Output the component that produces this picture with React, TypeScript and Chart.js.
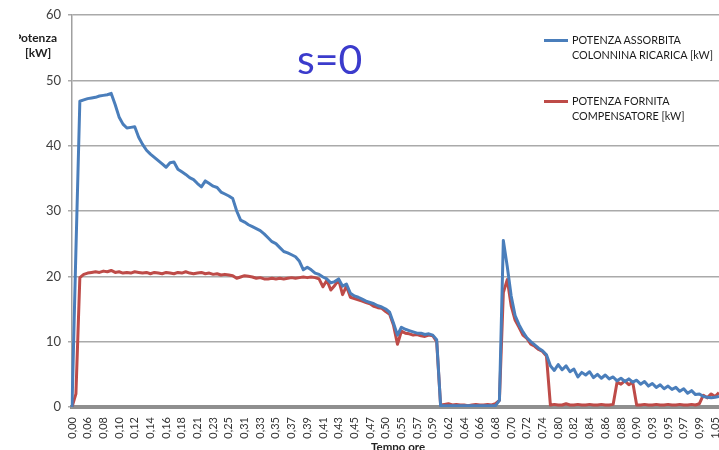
import { useEffect, useRef } from "react";
import { Chart, registerables } from "chart.js";

Chart.register(...registerables);

// Time axis labels (hours), one every 4 samples
const tickLabels = [
  "0,00", "0,06", "0,08", "0,10", "0,12", "0,14", "0,16", "0,18", "0,21", "0,23",
  "0,25", "0,31", "0,33", "0,35", "0,37", "0,39", "0,41", "0,43", "0,45", "0,47",
  "0,50", "0,55", "0,57", "0,59", "0,62", "0,64", "0,66", "0,68", "0,70", "0,72",
  "0,74", "0,80", "0,82", "0,84", "0,86", "0,88", "0,90", "0,93", "0,95", "0,97",
  "0,99", "1,05",
];
const SAMPLES_PER_TICK = 4;

// Potenza assorbita colonnina ricarica [kW]
const potenzaAssorbita = [
  0, 24, 46.8, 47.0, 47.2, 47.3, 47.4, 47.6, 47.7, 47.8,
  48.0, 46.3, 44.4, 43.3, 42.7, 42.8, 42.9, 41.3, 40.2, 39.3,
  38.7, 38.2, 37.7, 37.2, 36.7, 37.4, 37.5, 36.4, 36.0, 35.6,
  35.1, 34.8, 34.2, 33.7, 34.6, 34.2, 33.8, 33.6, 32.9, 32.6,
  32.3, 31.9, 30.0, 28.6, 28.3, 27.9, 27.6, 27.3, 27.0, 26.5,
  25.9, 25.3, 25.0, 24.4, 23.8, 23.6, 23.3, 23.0, 22.3, 21.0,
  21.4, 21.0, 20.5, 20.3, 19.9, 19.6, 19.0, 19.2, 19.6, 18.5,
  18.8, 17.4, 17.0, 16.8, 16.5, 16.2, 16.0, 15.8, 15.5, 15.3,
  15.0, 14.5, 12.8, 11.0, 12.2, 11.9, 11.7, 11.5, 11.3, 11.3,
  11.1, 11.2, 11.0, 10.3, 0.2, 0.2, 0.2, 0.2, 0.2, 0.2,
  0.2, 0.2, 0.2, 0.2, 0.2, 0.2, 0.2, 0.2, 0.2, 1.0,
  25.5, 21.5, 17.0, 14.0, 12.6, 11.5, 10.6, 10.0, 9.5, 9.0,
  8.6, 8.0, 6.3, 5.6, 6.5, 5.7, 6.3, 5.4, 5.8, 4.6,
  5.3, 4.9, 5.4, 4.5, 5.0, 4.4, 4.9, 4.3, 4.6, 4.0,
  4.4, 3.9, 4.3, 3.8, 4.1, 3.5, 3.9, 3.2, 3.6, 3.0,
  3.4, 2.8, 3.2, 2.7, 3.0, 2.4, 2.8, 2.1, 2.5, 1.9,
  2.0, 1.6, 1.5, 1.4, 1.5, 1.6,
];

// Potenza fornita compensatore [kW]
const potenzaFornita = [
  0, 2, 19.8, 20.3, 20.5, 20.6, 20.7, 20.6, 20.8, 20.7,
  20.9, 20.6, 20.7, 20.5, 20.6, 20.5, 20.7, 20.6, 20.5, 20.6,
  20.4, 20.6, 20.5, 20.4, 20.6, 20.5, 20.4, 20.6, 20.5, 20.7,
  20.5, 20.4, 20.5, 20.6, 20.4, 20.5, 20.3, 20.4, 20.2, 20.3,
  20.2, 20.1, 19.7, 19.9, 20.1, 20.0, 19.9, 19.7, 19.8, 19.6,
  19.6, 19.7, 19.6, 19.7, 19.6, 19.7, 19.8, 19.7, 19.8, 19.9,
  19.8, 19.9, 19.8, 19.6, 18.4, 19.4, 17.9, 18.6, 19.5, 17.2,
  18.5, 16.8, 16.6, 16.4, 16.2, 16.0, 15.8, 15.4, 15.2, 15.1,
  14.6, 14.2, 12.5, 9.6, 11.6, 11.3, 11.2, 11.0, 11.1, 10.9,
  10.8, 11.0, 10.9, 10.0, 0.3, 0.4, 0.5, 0.3, 0.4, 0.3,
  0.3, 0.2, 0.3, 0.4, 0.3, 0.3, 0.4, 0.3, 0.5, 1.0,
  17.5, 19.5, 15.5, 13.3, 12.2, 11.0, 10.5, 9.6, 9.3, 8.8,
  8.5, 7.8, 0.3, 0.4, 0.3, 0.3, 0.5, 0.3, 0.3, 0.4,
  0.3, 0.3, 0.4, 0.3, 0.3, 0.4, 0.3, 0.3, 0.4, 3.8,
  3.5, 4.0, 3.4, 3.8, 0.3, 0.3, 0.4, 0.3, 0.3, 0.4,
  0.3, 0.3, 0.4, 0.3, 0.3, 0.4, 0.3, 0.3, 0.4, 0.3,
  0.5, 1.8, 1.4, 2.0, 1.6, 2.2,
];

const BLUE = "#4a7ebb";
const RED = "#be4b48";
const FONT = "Lato, 'Open Sans', sans-serif";

export default function App() {
  const canvasRef = useRef<HTMLCanvasElement | null>(null);

  useEffect(() => {
    if (!canvasRef.current) return;
    const categories = potenzaAssorbita.map((_, i) =>
      i % SAMPLES_PER_TICK === 0 ? tickLabels[i / SAMPLES_PER_TICK] ?? "" : ""
    );
    const chart = new Chart(canvasRef.current, {
      type: "line",
      data: {
        labels: categories,
        datasets: [
          {
            label: "POTENZA ASSORBITA COLONNINA RICARICA [kW]",
            data: potenzaAssorbita,
            borderColor: BLUE,
            borderWidth: 3,
            pointRadius: 0,
            tension: 0,
            borderJoinStyle: "round",
          },
          {
            label: "POTENZA FORNITA COMPENSATORE [kW]",
            data: potenzaFornita,
            borderColor: RED,
            borderWidth: 3,
            pointRadius: 0,
            tension: 0,
            borderJoinStyle: "round",
          },
        ],
      },
      options: {
        responsive: false,
        animation: false,
        layout: { padding: { top: 15, left: 0, right: 0, bottom: 0 } },
        plugins: {
          legend: { display: false },
          tooltip: { enabled: false },
          title: { display: false },
        },
        scales: {
          x: {
            type: "category",
            offset: false,
            grid: { display: false, drawTicks: false },
            border: { display: true, color: "#8f8f8f", width: 4 },
            ticks: {
              autoSkip: false,
              minRotation: 90,
              maxRotation: 90,
              padding: 10,
              color: "#333333",
              font: { family: FONT, size: 11 },
            },
            afterFit: (scale: any) => {
              scale.height = 43;
              // let the plot run to the right edge of the canvas
              scale.paddingLeft = 0;
              scale.paddingRight = 0;
            },
          },
          y: {
            min: 0,
            max: 60,
            ticks: {
              stepSize: 10,
              padding: 7,
              color: "#404040",
              font: { family: FONT, size: 13 },
            },
            grid: { color: "#aaaaaa", lineWidth: 1.5, tickLength: 4 },
            border: { display: true, color: "#a0a0a0", width: 1.5 },
            afterFit: (scale: any) => {
              scale.width = 72;
            },
          },
        },
      },
    });
    return () => chart.destroy();
  }, []);

  const legendText: React.CSSProperties = {
    position: "absolute",
    left: 572,
    fontFamily: FONT,
    fontSize: 10.8,
    lineHeight: "14.5px",
    color: "#1a1a1a",
    whiteSpace: "nowrap",
  };
  const legendLine = (color: string, top: number): React.CSSProperties => ({
    position: "absolute",
    left: 544,
    top,
    width: 24,
    height: 3,
    background: color,
  });

  return (
    <div
      style={{
        position: "fixed",
        left: 0,
        top: 0,
        width: 719,
        height: 450,
        background: "#ffffff",
        overflow: "hidden",
      }}
    >
      <canvas ref={canvasRef} width={719} height={450} />
      <div
        style={{
          position: "absolute",
          left: 297,
          top: 34,
          fontFamily: FONT,
          fontSize: 41,
          lineHeight: "50px",
          color: "#3b3bcc",
          whiteSpace: "nowrap",
        }}
      >
        s=0
      </div>
      <div
        style={{
          position: "absolute",
          left: 19,
          top: 30,
          width: 45,
          height: 16,
          overflow: "hidden",
        }}
      >
        <div
          style={{
            position: "absolute",
            right: 7,
            top: 0,
            fontFamily: FONT,
            fontWeight: 700,
            fontSize: 12,
            lineHeight: "16px",
            color: "#222222",
            whiteSpace: "nowrap",
          }}
        >
          Potenza
        </div>
      </div>
      <div
        style={{
          position: "absolute",
          left: 25,
          top: 45,
          fontFamily: FONT,
          fontWeight: 700,
          fontSize: 12,
          lineHeight: "16px",
          color: "#222222",
          whiteSpace: "nowrap",
        }}
      >
        [kW]
      </div>
      <div
        style={{
          position: "absolute",
          left: 371,
          top: 439,
          fontFamily: FONT,
          fontWeight: 700,
          fontSize: 11.5,
          lineHeight: "16px",
          color: "#222222",
          whiteSpace: "nowrap",
        }}
      >
        Tempo ore
      </div>
      <div style={legendLine(BLUE, 39)} />
      <div style={{ ...legendText, top: 33 }}>
        POTENZA ASSORBITA
        <br />
        COLONNINA RICARICA [kW]
      </div>
      <div style={legendLine(RED, 100)} />
      <div style={{ ...legendText, top: 94 }}>
        POTENZA FORNITA
        <br />
        COMPENSATORE [kW]
      </div>
    </div>
  );
}
